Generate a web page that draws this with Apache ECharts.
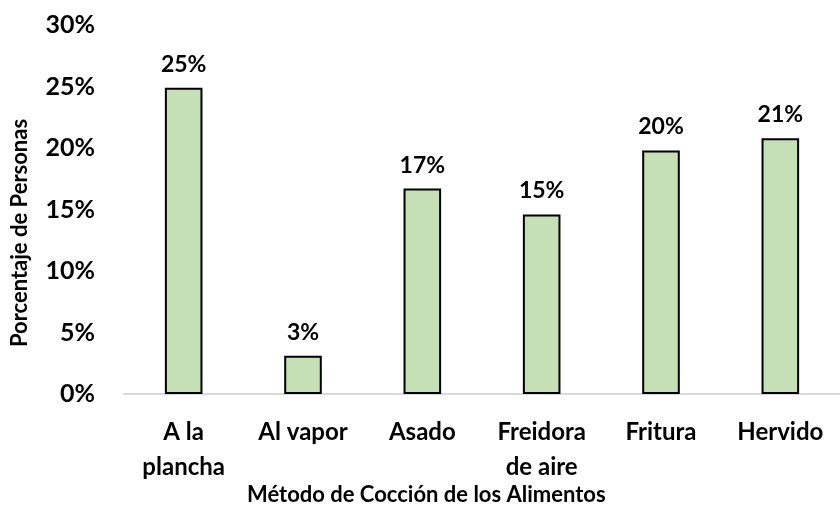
<!DOCTYPE html>
<html>
<head>
<meta charset="utf-8">
<script src="https://cdn.jsdelivr.net/npm/echarts@6/dist/echarts.min.js"></script>
<style>
  html, body { margin: 0; padding: 0; background: #fff; }
  #chart { width: 840px; height: 505px; }
</style>
</head>
<body>
<div id="chart"></div>
<script>
var categories = ['A la\nplancha', 'Al vapor', 'Asado', 'Freidora\nde aire', 'Fritura', 'Hervido'];
var percentages = [24.9, 3.1, 16.7, 14.6, 19.8, 20.8];
var yTicks = [0, 5, 10, 15, 20, 25, 30];

var font = 'Lato, "Open Sans", sans-serif';
var myChart = echarts.init(document.getElementById('chart'));

var option = {
    animation: false,
    title: {
        text: 'Método de Cocción de los Alimentos',
        left: 242,
        top: 479,
        textStyle: { fontFamily: font, fontWeight: 'bold', fontSize: 22, color: '#000' }
    },
    graphic: [{
        // y axis title, rotated
        type: 'text',
        x: 20,
        y: 233,
        rotation: Math.PI / 2,
        style: {
            text: 'Porcentaje de Personas',
            fontFamily: font,
            fontWeight: 'bold',
            fontSize: 22,
            fill: '#000',
            align: 'center',
            verticalAlign: 'middle'
        }
    }],
    grid: {
        left: 124,
        right: -9,
        top: 25,
        bottom: 111,
        containLabel: false
    },
    xAxis: {
        type: 'category',
        data: categories,
        axisLine: { lineStyle: { color: '#d9d9d9', width: 2 } },
        axisTick: { show: false },
        axisLabel: {
            interval: 0,
            margin: 21,
            fontFamily: font,
            fontWeight: 'bold',
            fontSize: 24,
            lineHeight: 35,
            color: '#000'
        }
    },
    yAxis: {
        type: 'value',
        min: yTicks[0],
        max: yTicks[yTicks.length - 1],
        interval: 5,
        splitLine: { show: false },
        axisLine: { show: false },
        axisTick: { show: false },
        axisLabel: {
            margin: 29,
            fontFamily: font,
            fontWeight: 'bold',
            fontSize: 25,
            color: '#000',
            formatter: function (v) { return v + '%'; }
        }
    },
    series: [{
        type: 'bar',
        data: percentages,
        barWidth: '31.5%',
        itemStyle: { color: '#c5e0b4', borderColor: '#000', borderWidth: 2 },
        label: {
            show: true,
            position: 'top',
            distance: 12,
            fontFamily: font,
            fontWeight: 'bold',
            fontSize: 23,
            color: '#000',
            formatter: function (p) { return Math.round(p.value) + '%'; }
        }
    }]
};
myChart.setOption(option);
</script>
</body>
</html>
